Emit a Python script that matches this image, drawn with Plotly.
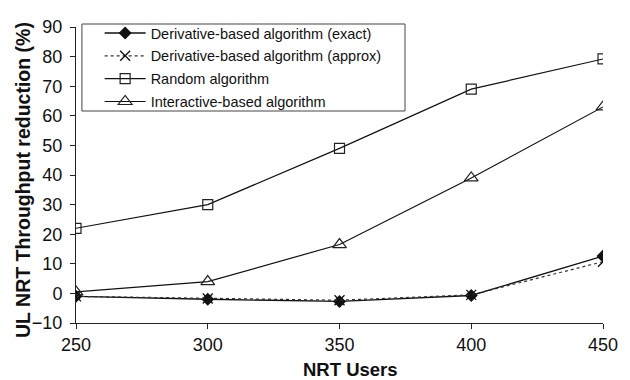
import plotly.graph_objects as go

# NRT users on the x axis
nrt_users = [250, 300, 350, 400, 450]

# UL NRT throughput reduction (%) per algorithm
deriv_exact = [-1.0, -2.0, -2.7, -0.7, 12.6]
deriv_approx = [-1.0, -1.7, -2.3, -0.5, 10.7]
random_alg = [22.0, 30.0, 49.0, 69.0, 79.2]
interactive_alg = [0.5, 4.0, 16.5, 39.0, 63.0]

series_names = [
    "Derivative-based algorithm (exact)",
    "Derivative-based algorithm (approx)",
    "Random algorithm",
    "Interactive-based algorithm",
]

x_ticks = [250, 300, 350, 400, 450]
y_ticks = list(range(-10, 91, 10))

FONT = "Arial, Liberation Sans, sans-serif"
INK = "#111111"

# Plot area in pixels, used to place the legend frame
W, H = 630, 380
ML, MR, MT, MB = 76, 19, 27, 57
PW, PH = W - ML - MR, H - MT - MB


def px_x(px):
    return (px - ML) / PW


def px_y(py):
    return 1 - (py - MT) / PH


fig = go.Figure()

fig.add_trace(go.Scatter(
    x=nrt_users, y=deriv_exact, name=series_names[0], mode="lines+markers",
    legendgroup="a",
    line=dict(color=INK, width=1.4),
    marker=dict(symbol="diamond", size=10, color=INK),
))
fig.add_trace(go.Scatter(
    x=nrt_users, y=deriv_approx, name=series_names[1], mode="lines+markers",
    legendgroup="b",
    line=dict(color="#333333", width=1.2, dash="dot"),
    marker=dict(symbol="x-thin-open", size=10, color=INK, line=dict(color=INK, width=1.3)),
))
fig.add_trace(go.Scatter(
    x=nrt_users, y=random_alg, name=series_names[2], mode="lines+markers",
    legendgroup="c",
    line=dict(color=INK, width=1.2),
    marker=dict(symbol="square-open", size=10, color="#222222", line=dict(width=1.2)),
))
fig.add_trace(go.Scatter(
    x=nrt_users, y=interactive_alg, name=series_names[3], mode="lines+markers",
    legendgroup="d",
    line=dict(color=INK, width=1.2),
    marker=dict(symbol="triangle-up-open", size=12, color="#222222", line=dict(width=1.2)),
))

fig.update_layout(
    width=W, height=H,
    margin=dict(l=ML, r=MR, t=MT, b=MB),
    paper_bgcolor="white", plot_bgcolor="white",
    font=dict(family=FONT, color=INK),
    showlegend=True,
    legend=dict(
        x=px_x(100), y=px_y(17), xanchor="left", yanchor="top",
        bgcolor="rgba(0,0,0,0)", borderwidth=0,
        font=dict(family=FONT, size=14.5, color=INK),
        itemwidth=41, tracegroupgap=1,
    ),
    xaxis=dict(
        range=[250, 450], tickvals=x_ticks, showgrid=False, zeroline=False,
        showline=True, linecolor="#222222", linewidth=1,
        ticks="outside", ticklen=5, tickcolor="#222222",
        tickfont=dict(family=FONT, size=18, color=INK),
    ),
    yaxis=dict(
        range=[-10, 90], tickvals=y_ticks, showgrid=False, zeroline=False,
        showline=True, linecolor="#222222", linewidth=1,
        ticks="outside", ticklen=5, tickcolor="#222222", ticklabelstandoff=4,
        tickfont=dict(family=FONT, size=18, color=INK),
    ),
    shapes=[
        dict(type="rect", xref="paper", yref="paper",
             x0=px_x(82), x1=px_x(410), y0=px_y(111), y1=px_y(24),
             line=dict(color="#444444", width=1), fillcolor="rgba(0,0,0,0)"),
    ],
    annotations=[
        dict(text="<b>NRT Users</b>", xref="paper", yref="paper",
             x=px_x(355), y=0, xanchor="center", yanchor="middle", yshift=-46,
             showarrow=False, font=dict(family=FONT, size=18.5, color=INK)),
        dict(text="<b>UL NRT Throughput reduction (%)</b>", xref="paper", yref="paper",
             x=0, y=px_y(180), xanchor="center", yanchor="middle", xshift=-53, textangle=-90,
             showarrow=False, font=dict(family=FONT, size=19.5, color=INK)),
    ],
)

fig.write_html("out.html")
